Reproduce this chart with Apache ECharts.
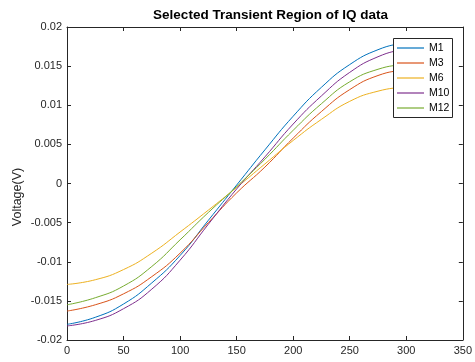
<!DOCTYPE html>
<html>
<head>
<meta charset="utf-8">
<script src="https://cdn.jsdelivr.net/npm/echarts@6/dist/echarts.min.js"></script>
<style>
  html, body { margin: 0; padding: 0; background: #fff; }
  #chart { width: 475px; height: 362px; }
</style>
</head>
<body>
<div id="chart"></div>
<script>
// Sample positions along the transient window
const sampleX = [0, 25, 50, 75, 100, 125, 150, 175, 200, 225, 250, 275, 300, 305];

// Measured voltages (V) for each channel at the sample positions
const m1  = [-0.0180, -0.0171, -0.0154, -0.0127, -0.0092, -0.0047, -0.0002, 0.0043, 0.0086, 0.0123, 0.0152, 0.0171, 0.0181, 0.0183];
const m3  = [-0.0163, -0.0155, -0.0141, -0.0119, -0.0089, -0.0050, -0.0012, 0.0021, 0.0058, 0.0092, 0.0120, 0.0138, 0.0146, 0.0147];
const m6  = [-0.0129, -0.0123, -0.0110, -0.0089, -0.0062, -0.0034, -0.0005, 0.0025, 0.0055, 0.0082, 0.0105, 0.0118, 0.0124, 0.0125];
const m10 = [-0.0182, -0.0175, -0.0160, -0.0135, -0.0098, -0.0052, -0.0007, 0.0034, 0.0076, 0.0112, 0.0142, 0.0162, 0.0173, 0.0175];
const m12 = [-0.0155, -0.0146, -0.0131, -0.0106, -0.0072, -0.0037, -0.0004, 0.0031, 0.0068, 0.0102, 0.0130, 0.0146, 0.0153, 0.0154];

const seriesNames = ['M1', 'M3', 'M6', 'M10', 'M12'];
const seriesValues = [m1, m3, m6, m10, m12];
const seriesColors = ['#0072BD', '#D95319', '#EDB120', '#7E2F8E', '#77AC30'];

// Axis ranges and tick spacing
const xMin = 0, xMax = 350, xStep = 50;
const yMin = -0.02, yMax = 0.02, yStep = 0.005;

const axisColor = '#262626';
const fontFamily = '"Liberation Sans", Arial, Helvetica, sans-serif';

function fmtY(v) {
  if (Math.abs(v) < 1e-12) return '0';
  return String(+v.toFixed(3));
}

function makeX(pos, showLabel) {
  return {
    type: 'value', min: xMin, max: xMax, interval: xStep, position: pos,
    axisLine: { show: true, onZero: false, lineStyle: { color: axisColor, width: 1 } },
    axisTick: { show: true, inside: true, length: 4, lineStyle: { color: axisColor } },
    axisLabel: { show: showLabel, color: axisColor, fontSize: 11, margin: 5, fontFamily: fontFamily },
    splitLine: { show: false }
  };
}
function makeY(pos, showLabel) {
  return {
    type: 'value', min: yMin, max: yMax, interval: yStep, position: pos,
    axisLine: { show: true, onZero: false, lineStyle: { color: axisColor, width: 1 } },
    axisTick: { show: true, inside: true, length: 4, lineStyle: { color: axisColor } },
    axisLabel: { show: showLabel, color: axisColor, fontSize: 11, margin: 5, fontFamily: fontFamily, formatter: fmtY },
    splitLine: { show: false }
  };
}

const chart = echarts.init(document.getElementById('chart'), null, { renderer: 'canvas' });

chart.setOption({
  animation: false,
  backgroundColor: '#ffffff',
  title: {
    text: 'Selected Transient Region of IQ data',
    left: 265.5, top: 3, textAlign: 'center',
    textStyle: { fontSize: 13.5, fontWeight: 'bold', color: '#000', fontFamily: fontFamily }
  },
  grid: { left: 67, right: 11, top: 27, bottom: 22, containLabel: false },
  xAxis: [makeX('bottom', true), makeX('top', false)],
  yAxis: [makeY('left', true), makeY('right', false)],
  legend: {
    orient: 'vertical', left: 393, top: 38,
    padding: [4, 0, 0, 4],
    icon: 'rect',
    itemWidth: 27, itemHeight: 1.2, itemGap: 3,
    z: 20,
    textStyle: { fontSize: 10.5, lineHeight: 12, color: '#000', fontFamily: fontFamily },
    data: seriesNames
  },
  graphic: [
    {
      type: 'rect', z: 10,
      shape: { x: 393.5, y: 38.5, width: 59, height: 79 },
      style: { fill: '#fff', stroke: axisColor, lineWidth: 1 }
    },
    {
      type: 'text', z: 10,
      x: 18, y: 197, rotation: Math.PI / 2,
      style: {
        text: 'Voltage(V)', fill: axisColor, fontSize: 12.5, fontFamily: fontFamily,
        textAlign: 'center', textVerticalAlign: 'middle'
      }
    }
  ],
  series: seriesNames.map((name, i) => ({
    name: name,
    type: 'line',
    xAxisIndex: 0, yAxisIndex: 0,
    symbol: 'none',
    smooth: 0.5,
    lineStyle: { width: 1, color: seriesColors[i] },
    itemStyle: { color: seriesColors[i] },
    data: sampleX.map((x, j) => [x, seriesValues[i][j]])
  }))
});
</script>
</body>
</html>
